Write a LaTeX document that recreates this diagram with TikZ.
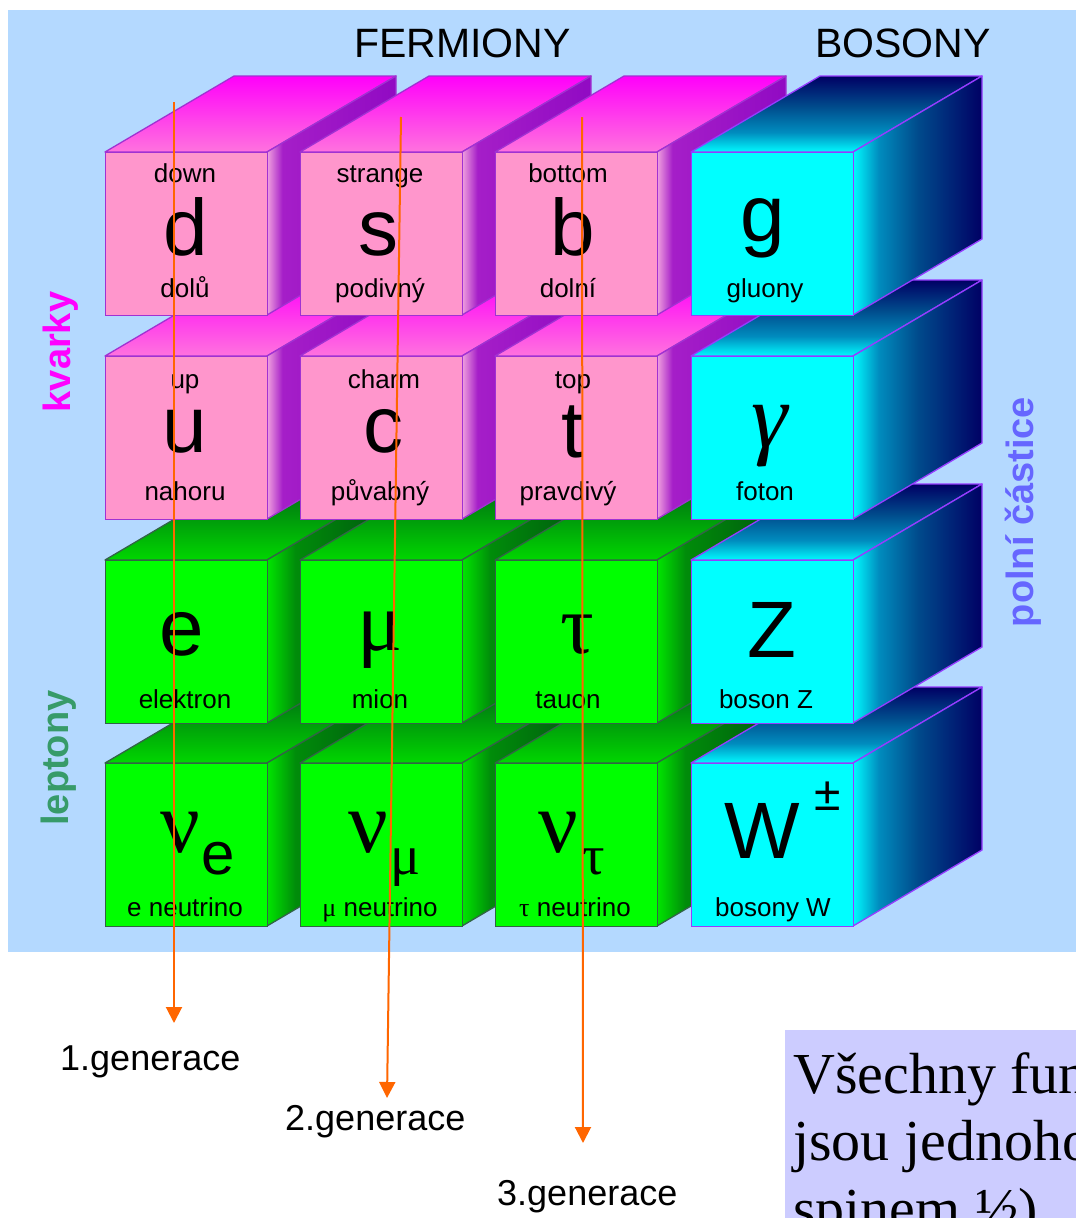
\documentclass[tikz,border=0pt]{standalone}
\usepackage{fontspec}
\setmainfont{Liberation Sans}
\newfontfamily\serifg{Liberation Serif}
\usetikzlibrary{arrows.meta}
\definecolor{bgblue}{RGB}{180,217,255}
\definecolor{lav}{RGB}{204,204,255}
\definecolor{arrorange}{RGB}{255,102,0}
% pink
\definecolor{pkfront}{RGB}{255,150,204}
\definecolor{pkedge}{RGB}{160,50,210}
\definecolor{pkTopB}{RGB}{255,115,222}
\definecolor{pkTopT}{RGB}{255,0,250}
\definecolor{pkSideA}{RGB}{240,160,222}
\definecolor{pkSideB}{RGB}{165,30,200}
\definecolor{pkSideC}{RGB}{145,10,195}
% green
\definecolor{grfront}{RGB}{0,255,0}
\definecolor{gredge}{RGB}{50,100,70}
\definecolor{grTopB}{RGB}{0,215,0}
\definecolor{grTopT}{RGB}{0,105,20}
\definecolor{grSideA}{RGB}{0,230,0}
\definecolor{grSideB}{RGB}{0,140,10}
\definecolor{grSideC}{RGB}{0,85,15}
% cyan
\definecolor{cyfront}{RGB}{0,255,255}
\definecolor{cyedge}{RGB}{150,60,255}
\definecolor{cyA}{RGB}{0,250,255}
\definecolor{cyB}{RGB}{0,140,190}
\definecolor{cyC}{RGB}{0,75,140}
\definecolor{cyD}{RGB}{0,0,100}
\definecolor{kvcol}{RGB}{255,0,255}
\definecolor{lepcol}{RGB}{55,155,105}
\definecolor{polcol}{RGB}{102,102,255}

\pgfdeclareverticalshading{pktop}{100bp}{color(0bp)=(pkTopB); color(25bp)=(pkTopB); color(75bp)=(pkTopT); color(100bp)=(pkTopT)}
\pgfdeclarehorizontalshading{pkside}{100bp}{color(0bp)=(pkSideA); color(25bp)=(pkSideA); color(31bp)=(pkSideB); color(75bp)=(pkSideC); color(100bp)=(pkSideC)}
\pgfdeclareverticalshading{grtop}{100bp}{color(0bp)=(grTopB); color(25bp)=(grTopB); color(75bp)=(grTopT); color(100bp)=(grTopT)}
\pgfdeclarehorizontalshading{grside}{100bp}{color(0bp)=(grSideA); color(25bp)=(grSideA); color(36bp)=(grSideB); color(75bp)=(grSideC); color(100bp)=(grSideC)}
\pgfdeclareverticalshading{cytop}{100bp}{color(0bp)=(cyA); color(25bp)=(cyA); color(38bp)=(cyB); color(55bp)=(cyC); color(75bp)=(cyD); color(100bp)=(cyD)}
\pgfdeclarehorizontalshading{cyside}{100bp}{color(0bp)=(cyA); color(25bp)=(cyA); color(35bp)=(cyB); color(50bp)=(cyC); color(75bp)=(cyD); color(100bp)=(cyD)}

\newcommand\drawcube[4]{%
  \shade[shading=#4top, draw=#4edge, line width=1.3pt, line join=round]
    (#2,#3) -- ++(162,0) -- ++(129,-76) -- ++(-162,0) -- cycle;
  \shade[shading=#4side, draw=#4edge, line width=1.3pt, line join=round]
    (#2+162,#3) -- ++(129,-76) -- ++(0,163) -- ++(-129,76) -- cycle;
  \node[draw=#4edge, fill=#4front, line width=1.3pt, minimum width=162pt,
        minimum height=163pt, inner sep=0, anchor=north west] (#1) at (#2,#3) {};
}

\tikzset{
  lbl/.style={font=\fontsize{26}{26}\selectfont, anchor=base, inner sep=0},
  sym/.style={font=\fontsize{80}{80}\selectfont, anchor=base, inner sep=0},
  gsym/.style={font=\serifg\fontsize{84}{84}\selectfont, anchor=base, inner sep=0},
  head/.style={font=\fontsize{41}{41}\selectfont, anchor=base west, inner sep=0},
  side/.style={font=\bfseries\fontsize{38}{38}\selectfont, rotate=90, inner sep=0},
  gen/.style={font=\fontsize{36}{36}\selectfont, anchor=base west, inner sep=0},
  arr/.style={draw=arrorange, line width=2pt, -{Triangle[length=16pt,width=16pt]}},
  note/.style={font=\serifg\fontsize{58}{66}\selectfont, anchor=base west, inner sep=0},
}

\begin{document}
\begin{tikzpicture}[x=1pt,y=-1pt]
\useasboundingbox (0,0) rectangle (1076,1218);
\fill[white] (0,0) rectangle (1076,1218);
\fill[bgblue] (8,10) rectangle (1076,952);

% row 4
\drawcube{cne}{105}{763}{gr}
\drawcube{cnm}{300}{763}{gr}
\drawcube{cnt}{495}{763}{gr}
\drawcube{cw}{691}{763}{cy}
% row 3
\drawcube{ce}{105}{560}{gr}
\drawcube{cm}{300}{560}{gr}
\drawcube{ct}{495}{560}{gr}
\drawcube{cz}{691}{560}{cy}
% row 2
\drawcube{cu}{105}{356}{pk}
\drawcube{cc}{300}{356}{pk}
\drawcube{ctop}{495}{356}{pk}
\drawcube{cgam}{691}{356}{cy}
% row 1
\drawcube{cd}{105}{152}{pk}
\drawcube{cs}{300}{152}{pk}
\drawcube{cb}{495}{152}{pk}
\drawcube{cg}{691}{152}{cy}

% headings
\node[head] (hf) at (354,57) {FERMIONY};
\node[head] (hb) at (815,57) {BOSONY};
\node[side, text=kvcol] (kv) at (61,352) {kvarky};
\node[side, text=lepcol] (lep) at (59,758) {leptony};
\node[side, text=polcol] (pol) at (1023,512) {polní částice};

% row 1 texts
\node[lbl] (ld1) at (185,182) {down};
\node[lbl] (ls1) at (380,182) {strange};
\node[lbl] (lb1) at (568,182) {bottom};
\node[sym] (sd) at (186,255) {d};
\node[sym] (ss) at (378,255) {s};
\node[sym] (sb) at (573,255) {b};
\node[sym] (sg) at (763,241) {g};
\node[lbl] (ld2) at (185,297) {dolů};
\node[lbl] (ls2) at (380,297) {podivný};
\node[lbl] (lb2) at (568,297) {dolní};
\node[lbl] (lg) at (765,297) {gluony};

% row 2 texts
\node[lbl] (lu1) at (185,388) {up};
\node[lbl] (lc1) at (384,388) {charm};
\node[lbl] (lt1) at (573,388) {top};
\node[sym] (su) at (185,452) {u};
\node[sym] (sc) at (383,452) {c};
\node[sym] (st) at (573,457) {t};
\node[gsym, font=\serifg\itshape\fontsize{92}{92}\selectfont] (sgam) at (770,447) {γ};
\node[lbl] (lu2) at (185,500) {nahoru};
\node[lbl] (lc2) at (380,500) {půvabný};
\node[lbl] (lt2) at (568,500) {pravdivý};
\node[lbl] (lgam) at (765,500) {foton};

% row 3 texts
\node[sym] (se) at (182,655) {e};
\node[gsym] (smu) at (380,650) {μ};
\node[gsym] (stau) at (577,653) {τ};
\node[sym] (sz) at (772,657) {Z};
\node[lbl] (le) at (185,708) {elektron};
\node[lbl] (lm) at (380,708) {mion};
\node[lbl] (lt) at (568,708) {tauon};
\node[lbl] (lz) at (766,708) {boson Z};

% row 4 texts
\node[gsym, font=\serifg\fontsize{88}{88}\selectfont] (snu1) at (180,852) {ν};
\node[font=\fontsize{60}{60}\selectfont, anchor=base west, inner sep=0] (snu1s) at (201,874) {e};
\node[gsym, font=\serifg\fontsize{88}{88}\selectfont] (snu2) at (368,852) {ν};
\node[font=\serifg\fontsize{56}{56}\selectfont, anchor=base west, inner sep=0] (snu2s) at (390,874) {μ};
\node[gsym, font=\serifg\fontsize{88}{88}\selectfont] (snu3) at (558,852) {ν};
\node[font=\serifg\fontsize{56}{56}\selectfont, anchor=base west, inner sep=0] (snu3s) at (582,874) {τ};
\node[sym] (sw) at (762,858) {W};
\node[font=\fontsize{48}{48}\selectfont, anchor=base, inner sep=0] (swpm) at (828,810) {±};
\node[lbl] (lne) at (185,916) {e neutrino};
\node[lbl] (lnm) at (380,916) {{\serifg μ} neutrino};
\node[lbl] (lnt) at (575,916) {{\serifg τ} neutrino};
\node[lbl] (lw) at (773,916) {bosony W};

% generation arrows
\coordinate (a1s) at (174,102);
\coordinate (a1e) at (174,1023);
\coordinate (a2s) at (401,117);
\coordinate (a2e) at (387,1098);
\coordinate (a3s) at (582,117);
\coordinate (a3e) at (583,1143);
\draw[arr] (a1s) -- (a1e);
\draw[arr] (a2s) -- (a2e);
\draw[arr] (a3s) -- (a3e);
\node[gen] (g1) at (60,1070) {1.generace};
\node[gen] (g2) at (285,1130) {2.generace};
\node[gen] (g3) at (497,1205) {3.generace};

% note box
\begin{scope}
\clip (785,1030) rectangle (1076,1218);
\fill[lav] (785,1030) rectangle (1076,1218);
\node[note] (n1) at (793,1093) {Všechny fun};
\node[note] (n2) at (793,1160) {jsou jednoho};
\node[note] (n3) at (793,1228) {spinem ½)};
\end{scope}
\end{tikzpicture}
\end{document}
